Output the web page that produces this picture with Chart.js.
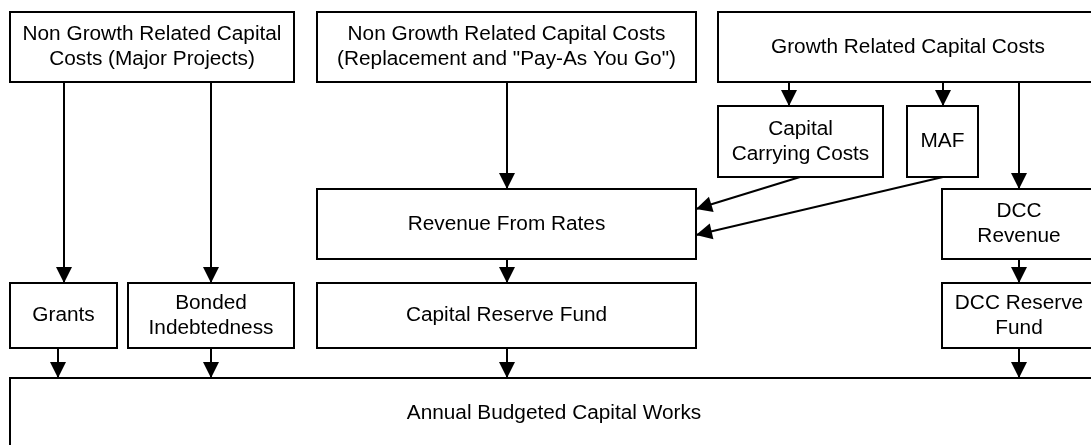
<!DOCTYPE html>
<html>
<head>
<meta charset="utf-8">
<script src="https://cdn.jsdelivr.net/npm/chart.js@4"></script>
<style>
  html, body { margin: 0; padding: 0; background: #fff; }
  #wrap { width: 1091px; height: 445px; }
</style>
</head>
<body>
<div id="wrap"><canvas id="c" width="1091" height="445"></canvas></div>
<script>
// ---- Diagram data (diagram units) ----
const nodeLabels = [
  ["Non Growth Related Capital", "Costs (Major Projects)"],
  ["Non Growth Related Capital Costs", "(Replacement and \"Pay-As You Go\")"],
  ["Growth Related Capital Costs"],
  ["Capital", "Carrying Costs"],
  ["MAF"],
  ["Revenue From Rates"],
  ["DCC", "Revenue"],
  ["Grants"],
  ["Bonded", "Indebtedness"],
  ["Capital Reserve Fund"],
  ["DCC Reserve", "Fund"],
  ["Annual Budgeted Capital Works"]
];
const nodeLeft   = [10, 317, 718, 718, 907, 317, 942, 10, 128, 317, 942, 10];
const nodeTop    = [12, 12, 12, 106, 106, 189, 189, 283, 283, 283, 283, 378];
const nodeRight  = [294, 696, 1098, 883, 978, 696, 1096, 117, 294, 696, 1096, 1098];
const nodeBottom = [82, 82, 82, 177, 177, 259, 259, 348, 348, 348, 348, 448];

const edgeFromX = [64, 211, 507, 789, 943, 1019, 800, 943, 507, 1019, 58, 211, 507, 1019];
const edgeFromY = [82, 82, 82, 82, 82, 82, 177, 177, 259, 259, 348, 348, 348, 348];
const edgeToX   = [64, 211, 507, 789, 943, 1019, 696, 696, 507, 1019, 58, 211, 507, 1019];
const edgeToY   = [283, 283, 189, 106, 106, 189, 209, 235, 283, 283, 378, 378, 378, 378];

const datasets = edgeFromX.map((fx, i) => ({
  data: [{x: fx, y: edgeFromY[i]}, {x: edgeToX[i], y: edgeToY[i]}],
  showLine: true,
  borderColor: '#000',
  borderWidth: 2,
  pointRadius: 0,
  pointHoverRadius: 0,
  fill: false
}));

const diagramPlugin = {
  id: 'diagram',
  afterDatasetsDraw(chart) {
    const ctx = chart.ctx;
    const xs = chart.scales.x, ys = chart.scales.y;
    ctx.save();
    // arrowheads
    ctx.fillStyle = '#000';
    edgeFromX.forEach((fx, i) => {
      const x1 = xs.getPixelForValue(fx), y1 = ys.getPixelForValue(edgeFromY[i]);
      const x2 = xs.getPixelForValue(edgeToX[i]), y2 = ys.getPixelForValue(edgeToY[i]);
      const ang = Math.atan2(y2 - y1, x2 - x1);
      const len = 16, half = 8;
      const bx = x2 - len * Math.cos(ang), by = y2 - len * Math.sin(ang);
      ctx.beginPath();
      ctx.moveTo(x2, y2);
      ctx.lineTo(bx + half * Math.sin(ang), by - half * Math.cos(ang));
      ctx.lineTo(bx - half * Math.sin(ang), by + half * Math.cos(ang));
      ctx.closePath();
      ctx.fill();
    });
    // boxes
    ctx.strokeStyle = '#000';
    ctx.lineWidth = 2;
    ctx.font = '20px "Liberation Sans", Arial, sans-serif';
    ctx.textAlign = 'center';
    ctx.textBaseline = 'middle';
    nodeLabels.forEach((lines, i) => {
      const l = xs.getPixelForValue(nodeLeft[i]), r = xs.getPixelForValue(nodeRight[i]);
      const t = ys.getPixelForValue(nodeTop[i]), b = ys.getPixelForValue(nodeBottom[i]);
      ctx.fillStyle = '#fff';
      ctx.fillRect(l, t, r - l, b - t);
      ctx.strokeRect(l, t, r - l, b - t);
      ctx.fillStyle = '#000';
      const cx = (l + r) / 2, cy = (t + b) / 2;
      const lh = 25;
      lines.forEach((s, k) => {
        ctx.save();
        ctx.translate(cx, cy + (k - (lines.length - 1) / 2) * lh);
        ctx.scale(1.04, 1);
        ctx.fillText(s, 0, 0);
        ctx.restore();
      });
    });
    ctx.restore();
  }
};

new Chart(document.getElementById('c'), {
  type: 'scatter',
  data: { datasets },
  options: {
    responsive: false,
    animation: false,
    events: [],
    layout: { padding: 0 },
    plugins: { legend: { display: false }, tooltip: { enabled: false } },
    scales: {
      x: { type: 'linear', min: 0, max: 1091, display: false },
      y: { type: 'linear', min: 0, max: 445, reverse: true, display: false }
    }
  },
  plugins: [diagramPlugin]
});
</script>
</body>
</html>
